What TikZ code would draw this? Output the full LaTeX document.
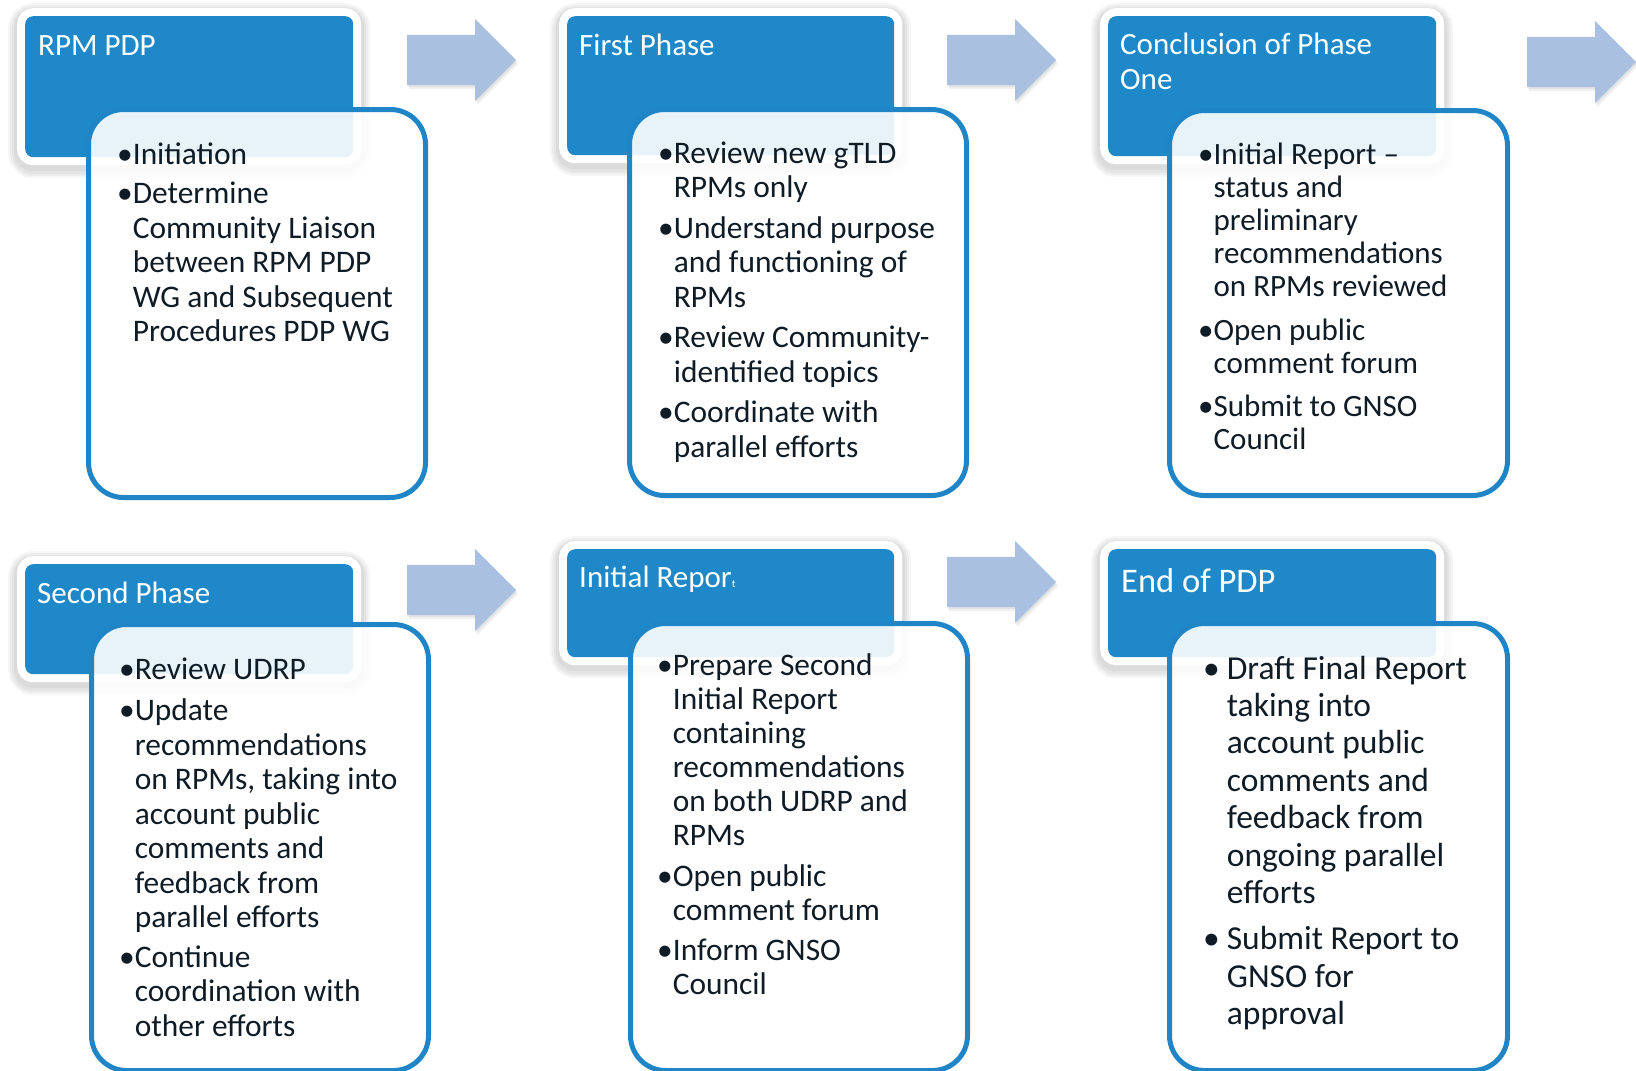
\documentclass[tikz,border=0pt]{standalone}
\usepackage{fontspec}
\setmainfont{Carlito}
\usetikzlibrary{shapes.arrows}
\definecolor{hdrblue}{RGB}{30,136,200}
\definecolor{boxblue}{RGB}{31,133,198}
\definecolor{arrowblue}{RGB}{169,192,224}
\definecolor{txtdark}{RGB}{15,28,38}
\begin{document}
\begin{tikzpicture}[x=1pt,y=-1pt,
  hdr/.style={fill=hdrblue, rounded corners=8pt, inner sep=0pt, anchor=north west,
    preaction={draw=black, opacity=0.035, line width=34pt, transform canvas={yshift=-4pt}},
    preaction={draw=black, opacity=0.035, line width=30pt, transform canvas={yshift=-4pt}},
    preaction={draw=black, opacity=0.04, line width=26pt, transform canvas={yshift=-4pt}},
    preaction={draw=black, opacity=0.04, line width=22pt, transform canvas={yshift=-3pt}},
    preaction={draw=white, line width=16pt}},
  wbox/.style={draw=boxblue, line width=5pt, fill=white, fill opacity=0.9, rounded corners=35pt, inner sep=0pt, anchor=north west},
  htitle/.style={text=white, inner sep=0pt, anchor=base west, font=\fontsize{31}{35}\selectfont},
  btext/.style={text=txtdark, inner sep=0pt, anchor=base west, font=\fontsize{31.4}{34.5}\selectfont},
  blockarrow/.style={single arrow, fill=arrowblue, minimum height=109pt, minimum width=82pt,
    single arrow head extend=16pt, inner xsep=0pt, inner ysep=25pt, anchor=tail,
    preaction={fill=black, opacity=0.06, transform canvas={shift={(2pt,-4pt)}}},
    preaction={fill=black, opacity=0.06, transform canvas={shift={(1pt,-2pt)}}}}
]
\useasboundingbox (0,0) rectangle (1636,1071);

% ---------- arrows ----------
\node[blockarrow] (a1) at (407,60) {};
\node[blockarrow] (a2) at (947,60) {};
\node[blockarrow] (a3) at (1527,62) {};
\node[blockarrow] (a4) at (407,590) {};
\node[blockarrow] (a5) at (947,582) {};

% ---------- row 1 ----------
\node[hdr, minimum width=328pt, minimum height=141pt] (h1) at (25,16) {};
\node[wbox, minimum width=337pt, minimum height=388pt] (w1) at (86,107) {};
\node[htitle] (ht1) at (38,55) {RPM PDP};
\node[btext] (t1) at (117,164) {\begin{tabular}[t]{@{}l@{}l@{}}
\textbullet & Initiation\\[5pt]
\textbullet & Determine\\
 & Community Liaison\\
 & between RPM PDP\\
 & WG and Subsequent\\
 & Procedures PDP WG
\end{tabular}};

\node[hdr, minimum width=327pt, minimum height=139pt] (h2) at (567,16) {};
\node[wbox, minimum width=337pt, minimum height=386pt] (w2) at (627,107) {};
\node[htitle] (ht2) at (579,55) {First Phase};
\node[btext] (t2) at (658,163) {\begin{tabular}[t]{@{}l@{}l@{}}
\textbullet & Review new gTLD\\
 & RPMs only\\[6pt]
\textbullet & Understand purpose\\
 & and functioning of\\
 & RPMs\\[6pt]
\textbullet & Review Community-\\
 & identified topics\\[6pt]
\textbullet & Coordinate with\\
 & parallel efforts
\end{tabular}};

\node[hdr, minimum width=328pt, minimum height=140pt] (h3) at (1108,16) {};
\node[wbox, minimum width=338pt, minimum height=385pt] (w3) at (1167,108) {};
\node[htitle] (ht3) at (1120,54) {\begin{tabular}[t]{@{}l@{}}Conclusion of Phase\\One\end{tabular}};
\node[btext, font=\fontsize{31}{33.2}\selectfont] (t3) at (1198,164) {\begin{tabular}[t]{@{}l@{}l@{}}
\textbullet & Initial Report --\\
 & status and\\
 & preliminary\\
 & recommendations\\
 & on RPMs reviewed\\[10pt]
\textbullet & Open public\\
 & comment forum\\[10pt]
\textbullet & Submit to GNSO\\
 & Council
\end{tabular}};

% ---------- row 2 ----------
\node[hdr, minimum width=328pt, minimum height=110pt] (h4) at (25,564) {};
\node[wbox, minimum width=337pt, minimum height=446pt] (w4) at (89,622) {};
\node[htitle] (ht4) at (37,603) {Second Phase};
\node[btext] (t4) at (119,679) {\begin{tabular}[t]{@{}l@{}l@{}}
\textbullet & Review UDRP\\[7pt]
\textbullet & Update\\
 & recommendations\\
 & on RPMs, taking into\\
 & account public\\
 & comments and\\
 & feedback from\\
 & parallel efforts\\[5pt]
\textbullet & Continue\\
 & coordination with\\
 & other efforts
\end{tabular}};

\node[hdr, minimum width=327pt, minimum height=108pt] (h5) at (567,549) {};
\node[wbox, minimum width=337pt, minimum height=447pt] (w5) at (628,621) {};
\node[htitle] (ht5) at (579,587) {Initial Repor{\fontsize{11}{11}\selectfont t}};
\node[btext, font=\fontsize{31.4}{34}\selectfont] (t5) at (657,675) {\begin{tabular}[t]{@{}l@{}l@{}}
\textbullet & Prepare Second\\
 & Initial Report\\
 & containing\\
 & recommendations\\
 & on both UDRP and\\
 & RPMs\\[7pt]
\textbullet & Open public\\
 & comment forum\\[6pt]
\textbullet & Inform GNSO\\
 & Council
\end{tabular}};

\node[hdr, minimum width=328pt, minimum height=108pt] (h6) at (1108,549) {};
\node[wbox, minimum width=338pt, minimum height=447pt] (w6) at (1167,621) {};
\node[htitle, font=\fontsize{34.5}{38}\selectfont] (ht6) at (1121,592) {End of PDP};
\node[btext, font=\fontsize{33.5}{37.4}\selectfont] (t6) at (1203,679) {\begin{tabular}[t]{@{}l@{\hspace{7pt}}l@{}}
\textbullet & Draft Final Report\\
 & taking into\\
 & account public\\
 & comments and\\
 & feedback from\\
 & ongoing parallel\\
 & efforts\\[9pt]
\textbullet & Submit Report to\\
 & GNSO for\\
 & approval
\end{tabular}};
\end{tikzpicture}
\end{document}
